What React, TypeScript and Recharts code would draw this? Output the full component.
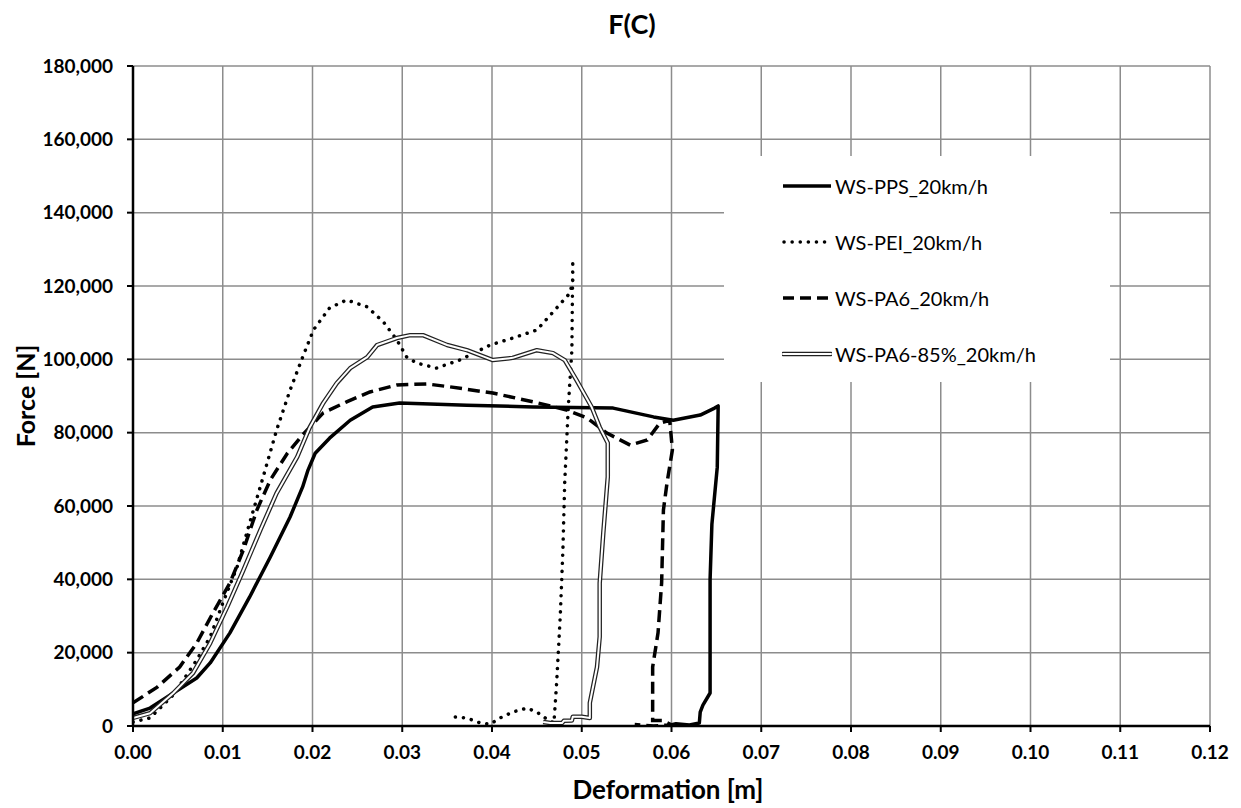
import React from "react";
import { LineChart, Line, XAxis, YAxis, CartesianGrid } from "recharts";

const ppsData = [
  { x: 0.0, y: 3300 }, { x: 0.0019, y: 4900 }, { x: 0.0045, y: 9000 }, { x: 0.0071, y: 13100 },
  { x: 0.0086, y: 17200 }, { x: 0.0108, y: 25400 }, { x: 0.013, y: 35200 }, { x: 0.0153, y: 46100 },
  { x: 0.0175, y: 57000 }, { x: 0.0189, y: 65200 }, { x: 0.0195, y: 69800 }, { x: 0.0203, y: 74400 },
  { x: 0.0219, y: 78500 }, { x: 0.0242, y: 83400 }, { x: 0.0267, y: 87000 }, { x: 0.0297, y: 88100 },
  { x: 0.0331, y: 87800 }, { x: 0.0372, y: 87500 }, { x: 0.0446, y: 87000 }, { x: 0.0535, y: 86700 },
  { x: 0.058, y: 84300 }, { x: 0.0602, y: 83400 }, { x: 0.0632, y: 84800 }, { x: 0.0648, y: 86700 },
  { x: 0.0652, y: 87300 }, { x: 0.0651, y: 70600 }, { x: 0.0645, y: 55000 }, { x: 0.0643, y: 40000 },
  { x: 0.0643, y: 9000 }, { x: 0.0635, y: 5700 }, { x: 0.0632, y: 3800 }, { x: 0.0631, y: 800 },
  { x: 0.062, y: 300 }, { x: 0.0605, y: 600 }, { x: 0.0598, y: 200 },
];

const peiData = [
  { x: 0.0, y: 1100 }, { x: 0.0019, y: 2200 }, { x: 0.0045, y: 8500 }, { x: 0.0071, y: 18000 },
  { x: 0.0086, y: 24300 }, { x: 0.01, y: 33500 }, { x: 0.0116, y: 43400 }, { x: 0.013, y: 55400 },
  { x: 0.0145, y: 67900 }, { x: 0.016, y: 80700 }, { x: 0.0175, y: 91600 }, { x: 0.0189, y: 100600 },
  { x: 0.0201, y: 108000 }, { x: 0.0219, y: 114000 }, { x: 0.0238, y: 116200 }, { x: 0.0261, y: 114300 },
  { x: 0.0279, y: 110200 }, { x: 0.0294, y: 105300 }, { x: 0.0305, y: 100600 }, { x: 0.0316, y: 99000 },
  { x: 0.0338, y: 97600 }, { x: 0.0364, y: 99800 }, { x: 0.0398, y: 103900 }, { x: 0.0423, y: 105800 },
  { x: 0.045, y: 108000 }, { x: 0.0472, y: 114000 }, { x: 0.0487, y: 118100 }, { x: 0.049, y: 121600 },
  { x: 0.049, y: 127100 }, { x: 0.0489, y: 102500 }, { x: 0.0485, y: 87000 }, { x: 0.0481, y: 66300 },
  { x: 0.0479, y: 48000 }, { x: 0.0476, y: 29700 }, { x: 0.0472, y: 11700 }, { x: 0.0469, y: 800 },
  { x: 0.0461, y: 1900 }, { x: 0.045, y: 3800 }, { x: 0.0439, y: 4900 }, { x: 0.0423, y: 3800 },
  { x: 0.0409, y: 2200 }, { x: 0.0398, y: 500 }, { x: 0.0387, y: 800 }, { x: 0.0372, y: 2200 },
  { x: 0.0357, y: 2500 },
];

const pa6Data = [
  { x: 0.0, y: 6300 }, { x: 0.0027, y: 10600 }, { x: 0.0052, y: 16100 }, { x: 0.0071, y: 22600 },
  { x: 0.0089, y: 30800 }, { x: 0.0108, y: 39000 }, { x: 0.0123, y: 48000 }, { x: 0.0138, y: 58900 },
  { x: 0.0153, y: 67100 }, { x: 0.0172, y: 74400 }, { x: 0.0189, y: 79400 }, { x: 0.0212, y: 85400 },
  { x: 0.0238, y: 88400 }, { x: 0.0264, y: 91100 }, { x: 0.0294, y: 93000 }, { x: 0.0327, y: 93300 },
  { x: 0.0353, y: 92500 }, { x: 0.0401, y: 90800 }, { x: 0.0446, y: 88400 }, { x: 0.0483, y: 86200 },
  { x: 0.0506, y: 84000 }, { x: 0.0528, y: 79900 }, { x: 0.0554, y: 76600 }, { x: 0.0573, y: 78000 },
  { x: 0.0587, y: 82600 }, { x: 0.0598, y: 83400 }, { x: 0.0601, y: 75300 }, { x: 0.0595, y: 66300 },
  { x: 0.0591, y: 58900 }, { x: 0.0589, y: 39000 }, { x: 0.0585, y: 25400 }, { x: 0.0579, y: 16100 },
  { x: 0.0579, y: 1500 }, { x: 0.059, y: 1500 }, { x: 0.06, y: 300 }, { x: 0.058, y: 0 },
  { x: 0.0559, y: 400 },
];

const pa685Data = [
  { x: 0.0, y: 2200 }, { x: 0.0019, y: 3500 }, { x: 0.0045, y: 9000 }, { x: 0.0067, y: 14500 },
  { x: 0.0086, y: 22600 }, { x: 0.0105, y: 32500 }, { x: 0.0123, y: 42500 }, { x: 0.0142, y: 53500 },
  { x: 0.016, y: 63500 }, { x: 0.0183, y: 73400 }, { x: 0.0197, y: 81500 }, { x: 0.0212, y: 88100 },
  { x: 0.0227, y: 93500 }, { x: 0.0242, y: 97600 }, { x: 0.0261, y: 100600 }, { x: 0.0272, y: 103900 },
  { x: 0.0294, y: 105800 }, { x: 0.0309, y: 106600 }, { x: 0.0323, y: 106600 }, { x: 0.035, y: 103900 },
  { x: 0.0372, y: 102500 }, { x: 0.0401, y: 99800 }, { x: 0.0423, y: 100400 }, { x: 0.045, y: 102500 },
  { x: 0.0468, y: 101700 }, { x: 0.0481, y: 99800 }, { x: 0.0494, y: 94400 }, { x: 0.0511, y: 87000 },
  { x: 0.052, y: 81500 }, { x: 0.0529, y: 77200 }, { x: 0.0529, y: 67900 }, { x: 0.0524, y: 52600 },
  { x: 0.052, y: 39000 }, { x: 0.052, y: 24300 }, { x: 0.0517, y: 16100 }, { x: 0.0509, y: 6300 },
  { x: 0.0509, y: 2200 }, { x: 0.05, y: 2500 }, { x: 0.049, y: 2500 }, { x: 0.0489, y: 1500 },
  { x: 0.048, y: 1400 }, { x: 0.0478, y: 800 }, { x: 0.0465, y: 800 }, { x: 0.0457, y: 1100 },
];

const xTicks = [0, 0.01, 0.02, 0.03, 0.04, 0.05, 0.06, 0.07, 0.08, 0.09, 0.1, 0.11, 0.12];
const yTicks = [0, 20000, 40000, 60000, 80000, 100000, 120000, 140000, 160000, 180000];
const seriesNames = ["WS-PPS_20km/h", "WS-PEI_20km/h", "WS-PA6_20km/h", "WS-PA6-85%_20km/h"];

const FONT = "Lato, 'Open Sans', sans-serif";

const LegendBox = () => {
  const rows = [
    { name: seriesNames[0], kind: "solid" },
    { name: seriesNames[1], kind: "dot" },
    { name: seriesNames[2], kind: "dash" },
    { name: seriesNames[3], kind: "double" },
  ];
  return (
    <div style={{ position: "absolute", left: 724, top: 156, width: 386, height: 226, background: "#fff" }}>
      {rows.map((r, i) => (
        <div key={r.name} style={{ position: "absolute", left: 58, top: 30 + i * 56 - 14, height: 28, display: "flex", alignItems: "center" }}>
          <svg width={50} height={10} style={{ display: "block" }}>
            {r.kind === "solid" && <line x1={1} y1={5} x2={49} y2={5} stroke="#000" strokeWidth={3.5} />}
            {r.kind === "dot" && <line x1={2} y1={5} x2={49} y2={5} stroke="#000" strokeWidth={3.5} strokeDasharray="0.1 8" strokeLinecap="round" />}
            {r.kind === "dash" && <line x1={1} y1={5} x2={49} y2={5} stroke="#000" strokeWidth={3.5} strokeDasharray="11 6" />}
            {r.kind === "double" && (
              <g>
                <line x1={1} y1={5} x2={49} y2={5} stroke="#222" strokeWidth={4.5} strokeLinecap="round" />
                <line x1={1} y1={5} x2={49} y2={5} stroke="#fff" strokeWidth={2} strokeLinecap="round" />
              </g>
            )}
          </svg>
          <span style={{ marginLeft: 3, fontSize: 20, fontFamily: FONT, color: "#000", whiteSpace: "nowrap" }}>{r.name}</span>
        </div>
      ))}
    </div>
  );
};

export default function App() {
  return (
    <div style={{ position: "absolute", left: 0, top: 0, width: 1241, height: 808, background: "#fff", fontFamily: FONT }}>
      <div style={{ position: "absolute", left: 532, width: 200, top: 7, textAlign: "center", fontSize: 27, fontWeight: 700 }}>F(C)</div>
      <div style={{ position: "absolute", left: 468, width: 400, top: 773, textAlign: "center", fontSize: 26, fontWeight: 700 }}>Deformation [m]</div>
      <div style={{ position: "absolute", left: 25, top: 396, width: 0, height: 0 }}>
        <div style={{ position: "absolute", transform: "translate(-50%, -50%) rotate(-90deg)", fontSize: 25, fontWeight: 700, whiteSpace: "nowrap" }}>Force [N]</div>
      </div>
      <LineChart width={1241} height={808} margin={{ top: 66, right: 31, bottom: 0, left: 53 }}>
        <CartesianGrid stroke="#8c8c8c" strokeWidth={1.5} horizontalValues={yTicks} verticalValues={xTicks} />
        <XAxis
          type="number"
          dataKey="x"
          domain={[0, 0.12]}
          ticks={xTicks}
          interval={0}
          allowDataOverflow
          tickFormatter={(v: number) => v.toFixed(2)}
          axisLine={{ stroke: "#000", strokeWidth: 2.5 }}
          tickLine={{ stroke: "#000", strokeWidth: 2 }}
          tickSize={6}
          tickMargin={14}
          tick={{ fill: "#000", fontSize: 19, fontWeight: 700, fontFamily: FONT }}
          height={82}
        />
        <YAxis
          type="number"
          domain={[0, 180000]}
          ticks={yTicks}
          interval={0}
          allowDataOverflow
          tickFormatter={(v: number) => v.toLocaleString("en-US")}
          axisLine={{ stroke: "#000", strokeWidth: 2.5 }}
          tickLine={{ stroke: "#000", strokeWidth: 2 }}
          tickSize={6}
          tickMargin={14}
          tick={{ fill: "#000", fontSize: 19, fontWeight: 700, fontFamily: FONT }}
          width={80}
        />
        <Line data={ppsData} dataKey="y" name={seriesNames[0]} type="linear" stroke="#000" strokeWidth={3.5} dot={false} activeDot={false} isAnimationActive={false} strokeLinejoin="round" />
        <Line data={peiData} dataKey="y" name={seriesNames[1]} type="linear" stroke="#000" strokeWidth={3.5} strokeDasharray="0.1 8" strokeLinecap="round" dot={false} activeDot={false} isAnimationActive={false} />
        <Line data={pa6Data} dataKey="y" name={seriesNames[2]} type="linear" stroke="#000" strokeWidth={3.5} strokeDasharray="12 6" dot={false} activeDot={false} isAnimationActive={false} />
        <Line data={pa685Data} dataKey="y" name={seriesNames[3]} type="linear" stroke="#222" strokeWidth={4.5} dot={false} activeDot={false} isAnimationActive={false} strokeLinejoin="round" />
        <Line data={pa685Data} dataKey="y" name={seriesNames[3] + " inner"} type="linear" stroke="#fff" strokeWidth={2} dot={false} activeDot={false} isAnimationActive={false} strokeLinejoin="round" />
      </LineChart>
      <LegendBox />
    </div>
  );
}
